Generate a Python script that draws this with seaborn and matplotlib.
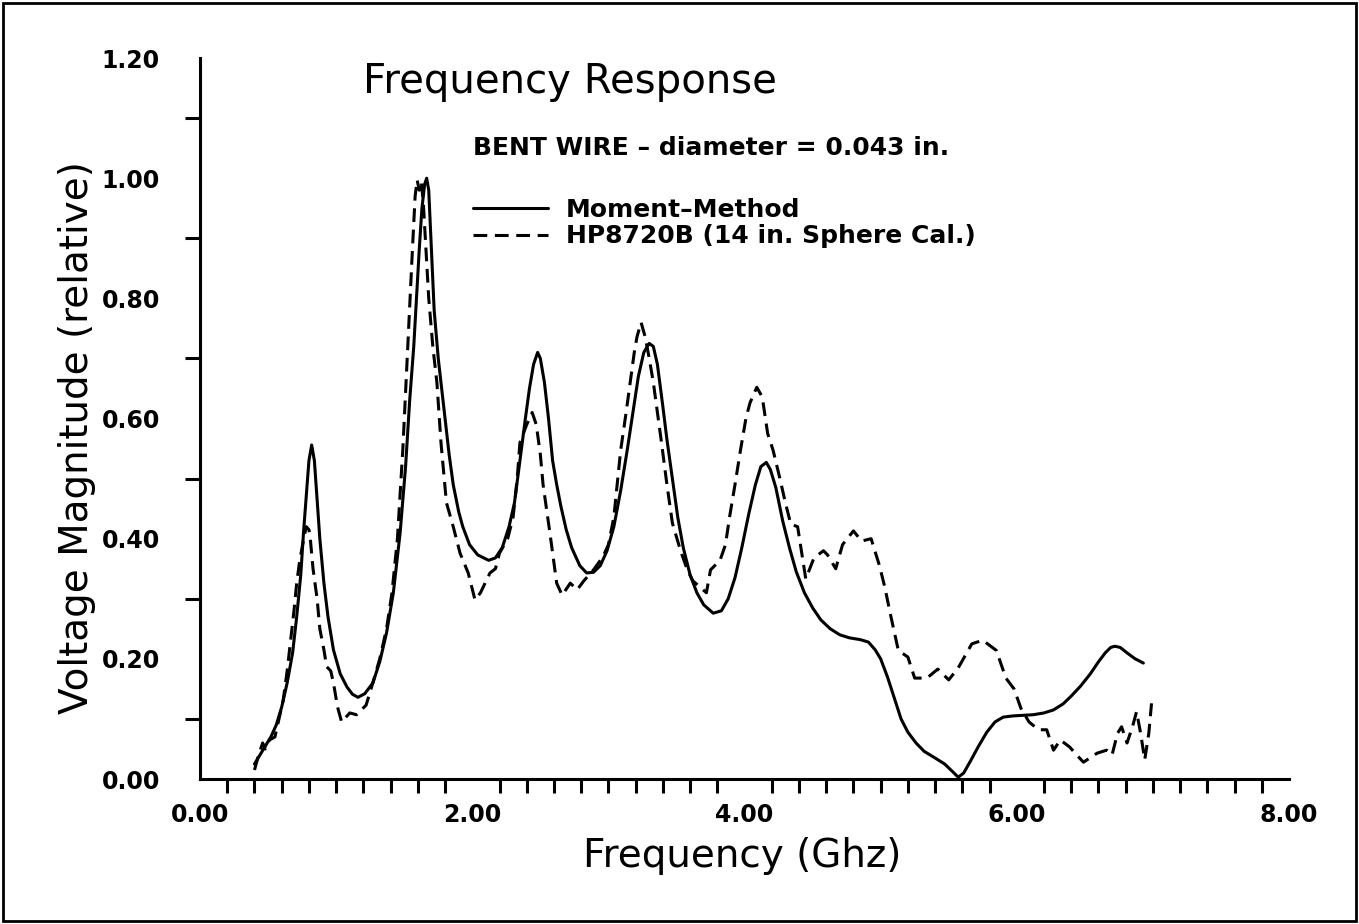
import matplotlib
matplotlib.use("Agg")
import matplotlib.pyplot as plt
from matplotlib.patches import Rectangle
from matplotlib.ticker import MultipleLocator, FormatStrFormatter
import pandas as pd
import seaborn as sns

# Moment-method computed response
mm_freq = [0.40, 0.44, 0.48, 0.52, 0.56, 0.60, 0.64, 0.68, 0.71, 0.74, 0.76, 0.78,
           0.80, 0.82, 0.84, 0.86, 0.88, 0.91, 0.94, 0.98, 1.03, 1.08, 1.12, 1.16,
           1.21, 1.27, 1.32, 1.37, 1.42, 1.47, 1.51, 1.54, 1.57, 1.59, 1.61, 1.63,
           1.65, 1.665, 1.68, 1.70, 1.72, 1.75, 1.79, 1.83, 1.86, 1.90, 1.93, 1.98,
           2.04, 2.12, 2.17, 2.22, 2.27, 2.31, 2.35, 2.39, 2.42, 2.45, 2.48, 2.50,
           2.53, 2.56, 2.59, 2.62, 2.65, 2.69, 2.73, 2.79, 2.84, 2.89, 2.94, 2.99,
           3.04, 3.09, 3.14, 3.18, 3.22, 3.26, 3.30, 3.33, 3.36, 3.40, 3.43, 3.47,
           3.51, 3.55, 3.60, 3.65, 3.70, 3.77, 3.83, 3.88, 3.93, 3.98, 4.03, 4.08,
           4.12, 4.16, 4.19, 4.23, 4.28, 4.33, 4.38, 4.44, 4.50, 4.56, 4.63, 4.70,
           4.77, 4.85, 4.91, 4.96, 5.00, 5.05, 5.10, 5.15, 5.20, 5.26, 5.32, 5.40,
           5.47, 5.53, 5.57, 5.61, 5.66, 5.72, 5.78, 5.84, 5.90, 5.97, 6.05, 6.12,
           6.20, 6.27, 6.34, 6.40, 6.47, 6.54, 6.60, 6.65, 6.69, 6.72, 6.76, 6.81,
           6.87, 6.93]
mm_mag = [0.025, 0.04, 0.055, 0.07, 0.09, 0.12, 0.16, 0.21, 0.27, 0.34, 0.41, 0.47,
          0.53, 0.556, 0.53, 0.464, 0.40, 0.326, 0.27, 0.215, 0.175, 0.153, 0.141, 0.136,
          0.142, 0.16, 0.195, 0.243, 0.31, 0.41, 0.52, 0.63, 0.72, 0.80, 0.88, 0.95,
          0.99, 1.00, 0.98, 0.88, 0.78, 0.70, 0.62, 0.54, 0.49, 0.445, 0.42, 0.39,
          0.373, 0.364, 0.368, 0.385, 0.42, 0.46, 0.53, 0.60, 0.65, 0.69, 0.71, 0.70,
          0.66, 0.60, 0.53, 0.49, 0.455, 0.415, 0.385, 0.355, 0.343, 0.344, 0.355, 0.38,
          0.42, 0.48, 0.55, 0.61, 0.67, 0.71, 0.725, 0.72, 0.69, 0.62, 0.565, 0.50,
          0.435, 0.385, 0.34, 0.31, 0.29, 0.276, 0.28, 0.30, 0.335, 0.385, 0.44, 0.49,
          0.52, 0.527, 0.515, 0.485, 0.43, 0.385, 0.345, 0.31, 0.285, 0.265, 0.25, 0.24,
          0.235, 0.232, 0.228, 0.215, 0.20, 0.17, 0.135, 0.10, 0.078, 0.06, 0.046, 0.035,
          0.025, 0.012, 0.003, 0.01, 0.03, 0.055, 0.078, 0.095, 0.103, 0.105, 0.106, 0.107,
          0.11, 0.115, 0.125, 0.138, 0.155, 0.175, 0.195, 0.21, 0.219, 0.221, 0.219, 0.21,
          0.20, 0.193]

# HP8720B measurement (14 in. sphere calibration)
hp_freq = [0.40, 0.43, 0.46, 0.48, 0.51, 0.55, 0.58, 0.61, 0.64, 0.66, 0.69, 0.71,
           0.73, 0.75, 0.78, 0.80, 0.81, 0.83, 0.86, 0.88, 0.91, 0.93, 0.96, 0.98,
           1.01, 1.04, 1.10, 1.15, 1.22, 1.26, 1.32, 1.37, 1.41, 1.45, 1.49, 1.53,
           1.56, 1.58, 1.595, 1.61, 1.625, 1.64, 1.66, 1.68, 1.71, 1.74, 1.77, 1.81,
           1.86, 1.91, 1.97, 2.02, 2.06, 2.13, 2.17, 2.20, 2.26, 2.30, 2.33, 2.35,
           2.40, 2.44, 2.47, 2.50, 2.52, 2.57, 2.62, 2.66, 2.72, 2.77, 2.82, 2.89,
           2.96, 3.00, 3.04, 3.09, 3.13, 3.16, 3.19, 3.21, 3.24, 3.27, 3.30, 3.33,
           3.36, 3.39, 3.43, 3.47, 3.53, 3.58, 3.62, 3.67, 3.72, 3.75, 3.82, 3.86,
           3.89, 3.93, 3.97, 4.01, 4.04, 4.09, 4.13, 4.17, 4.21, 4.26, 4.30, 4.34,
           4.39, 4.45, 4.51, 4.58, 4.61, 4.67, 4.72, 4.80, 4.86, 4.93, 4.99, 5.03,
           5.07, 5.13, 5.20, 5.25, 5.34, 5.42, 5.50, 5.57, 5.62, 5.67, 5.75, 5.85,
           5.92, 5.98, 6.03, 6.09, 6.16, 6.22, 6.27, 6.32, 6.39, 6.44, 6.49, 6.59,
           6.66, 6.70, 6.74, 6.77, 6.81, 6.85, 6.88, 6.91, 6.94, 6.97, 6.99]
hp_mag = [0.015, 0.04, 0.06, 0.05, 0.065, 0.07, 0.10, 0.13, 0.18, 0.22, 0.28, 0.326,
          0.36, 0.386, 0.42, 0.415, 0.40, 0.35, 0.30, 0.25, 0.215, 0.187, 0.18, 0.16,
          0.12, 0.095, 0.11, 0.107, 0.123, 0.153, 0.20, 0.25, 0.31, 0.40, 0.55, 0.74,
          0.88, 0.97, 0.997, 0.98, 0.995, 0.96, 0.88, 0.80, 0.72, 0.66, 0.56, 0.46,
          0.42, 0.376, 0.343, 0.298, 0.31, 0.343, 0.35, 0.376, 0.40, 0.436, 0.50, 0.56,
          0.59, 0.61, 0.59, 0.54, 0.49, 0.41, 0.326, 0.306, 0.326, 0.315, 0.33, 0.348,
          0.37, 0.39, 0.436, 0.547, 0.61, 0.66, 0.71, 0.736, 0.76, 0.736, 0.70, 0.66,
          0.61, 0.56, 0.49, 0.426, 0.38, 0.348, 0.33, 0.32, 0.31, 0.348, 0.364, 0.39,
          0.436, 0.49, 0.547, 0.60, 0.626, 0.652, 0.636, 0.575, 0.547, 0.50, 0.46, 0.424,
          0.42, 0.333, 0.368, 0.38, 0.373, 0.35, 0.39, 0.413, 0.396, 0.40, 0.356, 0.32,
          0.276, 0.214, 0.203, 0.168, 0.168, 0.183, 0.165, 0.185, 0.205, 0.225, 0.231, 0.214,
          0.168, 0.150, 0.118, 0.095, 0.082, 0.082, 0.048, 0.065, 0.053, 0.04, 0.028, 0.043,
          0.048, 0.04, 0.076, 0.087, 0.06, 0.087, 0.112, 0.076, 0.032, 0.076, 0.126]

series_names = ["Moment\u2013Method", "HP8720B (14 in. Sphere Cal.)"]
x_ticks = [0.0, 2.0, 4.0, 6.0, 8.0]
y_ticks = [0.0, 0.2, 0.4, 0.6, 0.8, 1.0, 1.2]

df = pd.concat([
    pd.DataFrame({"freq": mm_freq, "mag": mm_mag, "series": series_names[0]}),
    pd.DataFrame({"freq": hp_freq, "mag": hp_mag, "series": series_names[1]}),
], ignore_index=True)

sns.set_style("white")
plt.rcParams.update({
    "font.family": ["DejaVu Sans"],
    "text.color": "black",
    "axes.labelcolor": "black",
    "xtick.color": "black",
    "ytick.color": "black",
    "lines.solid_joinstyle": "round",
    "lines.dash_joinstyle": "round",
    "lines.solid_capstyle": "round",
})

fig = plt.figure(figsize=(13.59, 9.24), dpi=100)
ax = fig.add_axes([0.1472, 0.1569, 0.8013, 0.7803])

sns.lineplot(
    data=df, x="freq", y="mag", hue="series", style="series",
    palette={series_names[0]: "black", series_names[1]: "black"},
    dashes={series_names[0]: "", series_names[1]: (4.5, 2.5)},
    estimator=None, sort=False, linewidth=2.2, ax=ax,
)

ax.set_xlim(x_ticks[0], x_ticks[-1])
ax.set_ylim(y_ticks[0], y_ticks[-1])
ax.set_xticks(x_ticks)
ax.set_yticks(y_ticks)
ax.xaxis.set_minor_locator(MultipleLocator(0.2))
ax.yaxis.set_minor_locator(MultipleLocator(0.1))
ax.xaxis.set_major_formatter(FormatStrFormatter("%.2f"))
ax.yaxis.set_major_formatter(FormatStrFormatter("%.2f"))

sns.despine(ax=ax)
for side in ("left", "bottom"):
    ax.spines[side].set_linewidth(2.2)
    ax.spines[side].set_color("black")
ax.spines["left"].set_bounds(y_ticks[0], y_ticks[-1])
ax.spines["bottom"].set_bounds(x_ticks[0], x_ticks[-1])

ax.tick_params(axis="x", which="major", direction="out", length=16.5, width=2.2,
               pad=1, labelsize=17, color="black", labelcolor="black")
ax.tick_params(axis="x", which="minor", direction="out", length=10, width=2.2,
               color="black", bottom=True)
ax.tick_params(axis="y", which="major", direction="out", length=15, width=2.2,
               pad=14, labelsize=17, color="black", labelcolor="black")
ax.tick_params(axis="y", which="minor", direction="out", length=10.5, width=2.2,
               color="black", left=True)
for lbl in ax.get_xticklabels() + ax.get_yticklabels():
    lbl.set_fontweight("bold")

ax.set_xlabel("Frequency (Ghz)", fontsize=28, va="top", color="black")
ax.xaxis.set_label_coords(0.498, -0.080)
ax.set_ylabel("Voltage Magnitude (relative)", fontsize=28, va="center", color="black")
ax.yaxis.set_label_coords(-0.113, 0.473)

ax.text(1.20, 1.141, "Frequency Response", fontsize=29, ha="left", va="baseline",
        color="black")
ax.text(2.006, 1.038, "BENT WIRE \u2013 diameter = 0.043 in.", fontsize=18,
        fontweight="bold", ha="left", va="baseline", color="black")

old = ax.get_legend()
handles = old.legend_handles
labels = [t.get_text() for t in old.get_texts()]
old.remove()
leg = ax.legend(handles, labels, loc="upper left", bbox_to_anchor=(0.2507, 0.806),
                frameon=False, borderpad=0, borderaxespad=0, handlelength=3.0,
                handletextpad=0.72, labelspacing=0.1,
                prop={"size": 18, "weight": "bold"})
for t in leg.get_texts():
    t.set_color("black")

fig.add_artist(Rectangle((0.002, 0.003), 0.996, 0.994, transform=fig.transFigure,
                         fill=False, edgecolor="black", linewidth=2))

fig.savefig("out.png", dpi=100, facecolor="white")
